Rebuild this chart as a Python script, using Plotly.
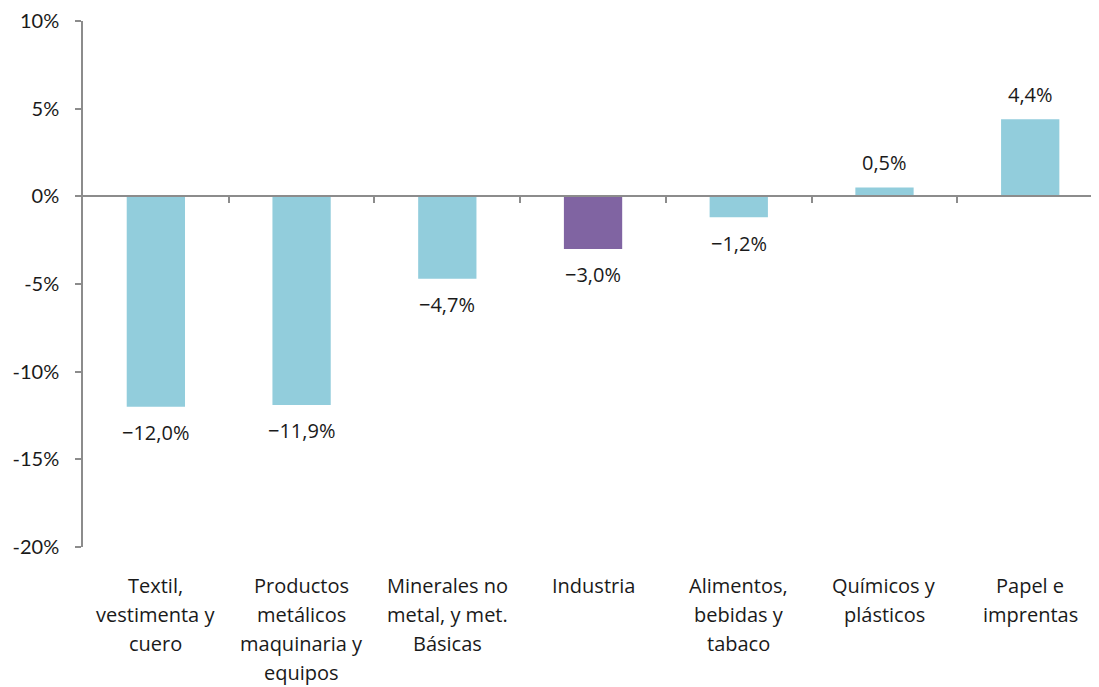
import plotly.graph_objects as go

categories = [
    "Textil,<br>vestimenta y<br>cuero",
    "Productos<br>metálicos<br>maquinaria y<br>equipos",
    "Minerales no<br>metal, y met.<br>Básicas",
    "Industria",
    "Alimentos,<br>bebidas y<br>tabaco",
    "Químicos y<br>plásticos",
    "Papel e<br>imprentas",
]
values = [-12.0, -11.9, -4.7, -3.0, -1.2, 0.5, 4.4]
colors = ["#92CDDC", "#92CDDC", "#92CDDC", "#8064A2", "#92CDDC", "#92CDDC", "#92CDDC"]
y_ticks = [-20, -15, -10, -5, 0, 5, 10]
y_tick_labels = ["-20%", "-15%", "-10%", "-5%", "0%", "5%", "10%"]

xs = list(range(len(categories)))

fig = go.Figure()
fig.add_trace(go.Bar(x=xs, y=values, marker=dict(color=colors, line=dict(width=0)),
                     width=0.4, hoverinfo="skip"))

annotations = []
label_font = dict(family="Open Sans", size=20, color="#1a1a1a")
for x, v in zip(xs, values):
    txt = ("\u2212" if v < 0 else "") + f"{abs(v):.1f}".replace(".", ",") + "%"
    annotations.append(dict(x=x, y=v, xref="x", yref="y", text=txt, showarrow=False,
                            yanchor="middle", yshift=25 if v >= 0 else -26, font=label_font))

for x, cat in zip(xs, categories):
    for i, line in enumerate(cat.split("<br>")):
        annotations.append(dict(x=x, y=0, xref="x", yref="paper", text=line, showarrow=False,
                                yanchor="middle", yshift=-38 - 29 * i, font=label_font))

fig.update_layout(
    width=1091, height=679,
    margin=dict(l=75, r=0, t=10, b=140),
    plot_bgcolor="white", paper_bgcolor="white",
    showlegend=False,
    bargap=0.6,
    annotations=annotations,
    xaxis=dict(type="linear", range=[-0.5, 6.472], showgrid=False, zeroline=False,
               showline=True, linecolor="#8c8c8c", linewidth=1.5,
               anchor="free", position=2 / 3,
               tickmode="array", tickvals=[i + 0.5 for i in xs], ticks="outside",
               ticklen=6, tickcolor="#8c8c8c", tickwidth=1.5, showticklabels=False),
    yaxis=dict(range=[-20, 10], showgrid=False, zeroline=False,
               showline=True, linecolor="#8c8c8c", linewidth=1.5,
               tickmode="array", tickvals=y_ticks, ticktext=y_tick_labels,
               ticks="outside", ticklen=6, tickcolor="#8c8c8c", tickwidth=1.5,
               ticklabelstandoff=12, ticklabeloverflow="allow",
               tickfont=dict(family="Lato", size=20, color="#1a1a1a")),
)

fig.write_html("out.html")
